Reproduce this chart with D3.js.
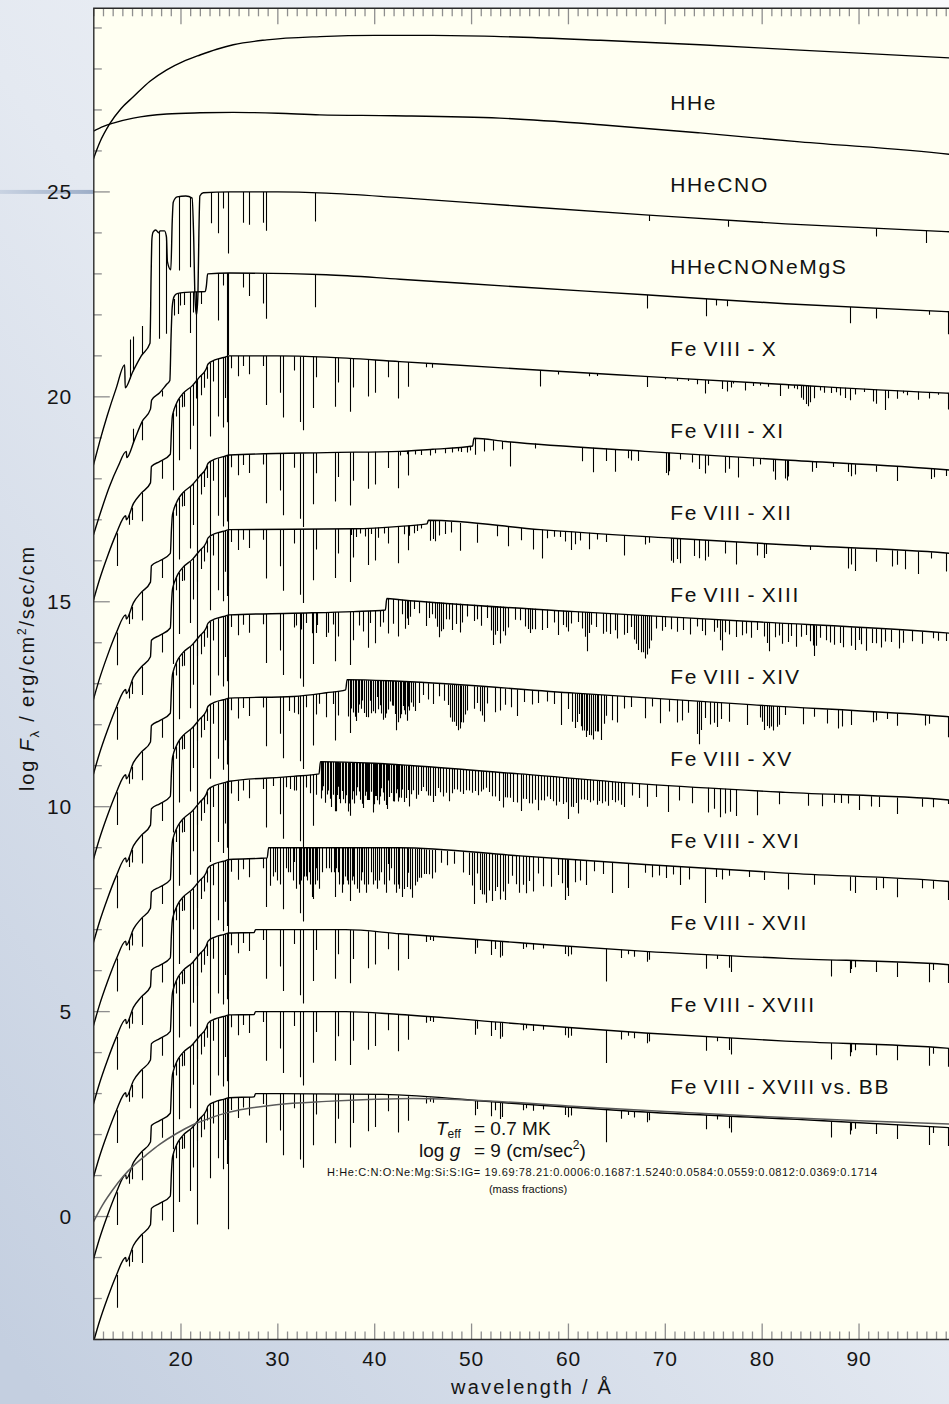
<!DOCTYPE html>
<html>
<head>
<meta charset="utf-8">
<script src="https://cdn.jsdelivr.net/npm/d3@7"></script>
<style>
  html, body { margin: 0; padding: 0; }
  body { width: 949px; height: 1404px; overflow: hidden; background: #e9edf3; }
  svg { display: block; }
</style>
</head>
<body>
<svg id="chart" width="949" height="1404"></svg>
<script>
// ---------------------------------------------------------------
// Axis settings
// ---------------------------------------------------------------
const xDomain = [11, 100];
const yDomain = [-3, 29.48];
const xTickLabels = [20, 30, 40, 50, 60, 70, 80, 90];
const yTickLabels = [0, 5, 10, 15, 20, 25];

// Model names written next to each spectrum and the flux level of each name
const modelNames = ["HHe", "HHeCNO", "HHeCNONeMgS", "Fe VIII - X", "Fe VIII - XI",
  "Fe VIII - XII", "Fe VIII - XIII", "Fe VIII - XIV", "Fe VIII - XV", "Fe VIII - XVI",
  "Fe VIII - XVII", "Fe VIII - XVIII", "Fe VIII - XVIII vs. BB"];
const modelNameLevels = [27, 25, 23, 21, 19, 17, 15, 13, 11, 9, 7, 5, 3];
const modelNameWavelength = 70.5;

// ---------------------------------------------------------------
// Continua: [wavelength / A, log F_lambda]
// ---------------------------------------------------------------
const contTopModel = [[10.92,25.78],[11.6,26.2],[12.67,26.67],[13.8,27.03],[15.08,27.32],[16.8,27.7],[18.53,27.98],[20.2,28.18],[21.96,28.34],[23.7,28.48],[25.4,28.59],[28.85,28.71],[34.35,28.79],[40,28.82],[46,28.82],[53,28.79],[63.3,28.7],[73.6,28.59],[83.9,28.46],[99.3,28.27],[100,28.26]];

const contHHe = [[10.92,26.48],[12.0,26.6],[13.0,26.68],[15.08,26.8],[18.53,26.9],[21.96,26.93],[25.4,26.94],[30,26.92],[34.35,26.88],[42,26.86],[52.9,26.8],[63.3,26.64],[73.6,26.44],[83.9,26.22],[99.3,25.92],[100,25.9]];

const contHHeCNO = [[10.92,18.3],[11.6,18.9],[12.4,19.55],[13.3,20.2],[14.19,20.78],[14.24,20.22],[15.0,20.6],[15.9,21.0],[16.8,21.31],[16.92,23.0],[17.0,23.85],[17.12,24.02],[17.4,24.07],[17.7,24.0],[17.85,24.05],[18.3,24.05],[18.5,23.9],[18.6,23.3],[18.95,23.1],[19.1,24.3],[19.2,24.75],[19.6,24.88],[20.5,24.9],[21.15,24.85],[21.3,24.0],[21.45,22.4],[21.6,22.0],[21.75,22.5],[21.85,24.0],[21.95,24.9],[22.3,24.98],[25,25.0],[30,25.0],[35,24.97],[42.6,24.86],[55,24.65],[67.9,24.44],[82.4,24.22],[99,24.03],[100,24.02]];

const contHHeCNONeMgS = [[10.92,16.6],[11.78,17.24],[12.6,17.8],[13.5,18.3],[14.36,18.67],[14.4,18.52],[15.2,18.95],[16.0,19.4],[16.85,19.7],[16.97,19.92],[17.8,20.1],[18.5,20.3],[18.85,20.4],[18.98,21.5],[19.1,22.2],[19.3,22.45],[19.6,22.52],[20.5,22.55],[22.5,22.57],[22.62,22.7],[22.75,23.0],[25,23.02],[35,22.98],[42.6,22.87],[55,22.68],[67.9,22.49],[82.4,22.27],[99,22.08],[100,22.07]];

const contFeX = [[10.92,15.0],[11.6,15.55],[12.4,16.1],[13.3,16.65],[14.3,17.1],[14.36,17.0],[15.1,17.4],[15.9,17.65],[16.85,17.9],[16.95,18.3],[17.8,18.42],[18.9,18.6],[19.02,19.2],[19.1,19.5],[19.2,19.62],[19.5,19.82],[19.7,19.92],[20.2,20.08],[21.2,20.28],[21.9,20.48],[22.6,20.68],[22.8,20.8],[23.5,20.9],[24.4,20.96],[25,21.0],[30,21.0],[35,20.97],[42.6,20.86],[55,20.68],[67.9,20.5],[82.4,20.3],[99,20.09],[100,20.08]];

const contFeXI = [[10.92,12.58],[11.6,13.13],[12.4,13.68],[13.3,14.23],[14.3,14.68],[14.36,14.58],[15.1,14.98],[15.9,15.23],[16.85,15.48],[16.95,15.88],[17.8,16.0],[18.9,16.18],[19.02,16.78],[19.1,17.08],[19.2,17.2],[19.5,17.4],[19.7,17.5],[20.2,17.66],[21.2,17.86],[21.9,18.06],[22.6,18.26],[22.8,18.38],[23.5,18.48],[24.4,18.54],[25,18.58],[35,18.64],[42.6,18.67],[46,18.72],[50.1,18.8],[50.25,18.99],[53.5,18.91],[67.9,18.67],[82.4,18.46],[99,18.22],[100,18.2]];

const contFeXII = [[10.92,10.76],[11.6,11.31],[12.4,11.86],[13.3,12.41],[14.3,12.86],[14.36,12.76],[15.1,13.16],[15.9,13.41],[16.85,13.66],[16.95,14.06],[17.8,14.18],[18.9,14.36],[19.02,14.96],[19.1,15.26],[19.2,15.38],[19.5,15.58],[19.7,15.68],[20.2,15.84],[21.2,16.04],[21.9,16.24],[22.6,16.44],[22.8,16.56],[23.5,16.66],[24.4,16.72],[25,16.76],[38,16.78],[42.6,16.84],[45.4,16.9],[45.55,16.99],[57.1,16.76],[70.8,16.55],[82.4,16.39],[99,16.19],[100,16.17]];

const contFeXIII = [[10.92,8.68],[11.6,9.23],[12.4,9.78],[13.3,10.33],[14.3,10.78],[14.36,10.68],[15.1,11.08],[15.9,11.33],[16.85,11.58],[16.95,11.98],[17.8,12.1],[18.9,12.28],[19.02,12.88],[19.1,13.18],[19.2,13.3],[19.5,13.5],[19.7,13.6],[20.2,13.76],[21.2,13.96],[21.9,14.16],[22.6,14.36],[22.8,14.48],[23.5,14.58],[24.4,14.64],[25,14.68],[31.6,14.72],[37.8,14.76],[41.1,14.8],[41.25,15.08],[42.6,15.05],[60.7,14.76],[78.8,14.52],[99,14.24],[100,14.22]];

const contFeXIV = [[10.92,6.65],[11.6,7.2],[12.4,7.75],[13.3,8.3],[14.3,8.75],[14.36,8.65],[15.1,9.05],[15.9,9.3],[16.85,9.55],[16.95,9.95],[17.8,10.07],[18.9,10.25],[19.02,10.85],[19.1,11.15],[19.2,11.27],[19.5,11.47],[19.7,11.57],[20.2,11.73],[21.2,11.93],[21.9,12.13],[22.6,12.33],[22.8,12.45],[23.5,12.55],[24.4,12.61],[25,12.65],[31.6,12.69],[35,12.78],[37.0,12.85],[37.15,13.1],[42.6,13.06],[60.7,12.77],[78.8,12.49],[99,12.2],[100,12.18]];

const contFeXV = [[10.92,4.62],[11.6,5.17],[12.4,5.72],[13.3,6.27],[14.3,6.72],[14.36,6.62],[15.1,7.02],[15.9,7.27],[16.85,7.52],[16.95,7.92],[17.8,8.04],[18.9,8.22],[19.02,8.82],[19.1,9.12],[19.2,9.24],[19.5,9.44],[19.7,9.54],[20.2,9.7],[21.2,9.9],[21.9,10.1],[22.6,10.3],[22.8,10.42],[23.5,10.52],[24.4,10.58],[25,10.62],[31.6,10.74],[34.25,10.8],[34.4,11.1],[40,11.06],[44,11.0],[55,10.8],[67.9,10.55],[82.4,10.35],[99,10.17],[100,10.15]];

const contFeXVI = [[10.92,2.71],[11.6,3.26],[12.4,3.81],[13.3,4.36],[14.3,4.81],[14.36,4.71],[15.1,5.11],[15.9,5.36],[16.85,5.61],[16.95,6.01],[17.8,6.13],[18.9,6.31],[19.02,6.91],[19.1,7.21],[19.2,7.33],[19.5,7.53],[19.7,7.63],[20.2,7.79],[21.2,7.99],[21.9,8.19],[22.6,8.39],[22.8,8.51],[23.5,8.61],[24.4,8.67],[25,8.71],[28.9,8.75],[29.05,9.0],[42.6,9.0],[55,8.8],[67.9,8.59],[82.4,8.38],[99,8.18],[100,8.16]];

const contFeXVII = [[10.92,0.92],[11.6,1.47],[12.4,2.02],[13.3,2.57],[14.3,3.02],[14.36,2.92],[15.1,3.32],[15.9,3.57],[16.85,3.82],[16.95,4.22],[17.8,4.34],[18.9,4.52],[19.02,5.12],[19.1,5.42],[19.2,5.54],[19.5,5.74],[19.7,5.84],[20.2,6.0],[21.2,6.2],[21.9,6.4],[22.6,6.6],[22.8,6.72],[23.5,6.82],[24.4,6.88],[25,6.92],[27.55,6.93],[27.7,7.0],[37,7.0],[42.6,6.9],[55,6.68],[67.9,6.47],[82.4,6.3],[99,6.15],[100,6.13]];

const contFeXVIII = [[10.92,-1.08],[11.6,-0.53],[12.4,0.02],[13.3,0.57],[14.3,1.02],[14.36,0.92],[15.1,1.32],[15.9,1.57],[16.85,1.82],[16.95,2.22],[17.8,2.34],[18.9,2.52],[19.02,3.12],[19.1,3.42],[19.2,3.54],[19.5,3.74],[19.7,3.84],[20.2,4.0],[21.2,4.2],[21.9,4.4],[22.6,4.6],[22.8,4.72],[23.5,4.82],[24.4,4.88],[25,4.92],[27.55,4.93],[27.7,5.0],[37,5.0],[42.6,4.93],[55,4.7],[67.9,4.48],[82.4,4.28],[99,4.11],[100,4.09]];

const contFeXVIIIvsBB = [[10.92,-3.1],[11.6,-2.55],[12.4,-2.0],[13.3,-1.45],[14.3,-1.0],[14.36,-1.1],[15.1,-0.7],[15.9,-0.45],[16.85,-0.2],[16.95,0.2],[17.8,0.32],[18.9,0.5],[19.02,1.1],[19.1,1.4],[19.2,1.52],[19.5,1.72],[19.7,1.82],[20.2,1.98],[21.2,2.18],[21.9,2.38],[22.6,2.58],[22.8,2.7],[23.5,2.8],[24.4,2.86],[25,2.9],[27.55,2.92],[27.7,3.0],[40.8,2.98],[53.7,2.77],[66.5,2.57],[83.6,2.37],[99.3,2.17],[100,2.16]];

// Blackbody of the same effective temperature
const contBlackbody = [[10.92,-0.15],[11.9,0.28],[12.98,0.66],[14.0,0.97],[15.05,1.23],[16.4,1.5],[17.8,1.76],[19.5,2.02],[21.24,2.24],[23,2.4],[24.68,2.53],[27,2.64],[29.84,2.73],[35,2.81],[40,2.86],[43.96,2.88],[50,2.84],[60,2.7],[70,2.56],[80,2.44],[90,2.34],[100,2.25]];

// ---------------------------------------------------------------
// Absorption lines: [wavelength / A, depth in dex] (negative = emission)
// ---------------------------------------------------------------
const linesHHeCNO = [[14.7,-0.95],[15.05,-0.85],[15.98,-0.7],[17.75,2.6],[18.45,2.4],[19.8,1.8],[20.97,1.7],[23.13,0.75],[23.8,1.0],[24.3,0.4],[24.86,1.5],[26.4,0.75],[27.0,0.8],[28.5,0.75],[28.8,0.95],[33.87,0.7],[68.3,0.14],[76.5,0.16],[91.8,0.2],[96.9,0.3]];

const linesHHeCNONeMgS = [[15.05,-0.35],[15.98,0.45],[18.0,0.15],[19.25,0.4],[19.65,0.5],[19.95,0.3],[20.3,0.3],[20.9,1.0],[21.25,0.5],[21.6,2.6],[22.1,0.3],[23.8,1.15],[24.3,0.3],[24.7,2.0],[24.8,2.7],[24.9,2.0],[26.4,0.35],[27.0,0.55],[28.5,0.73],[28.8,1.1],[33.87,0.8],[68.1,0.33],[74.2,0.43],[75.2,0.15],[76.4,0.15],[89.1,0.4],[91.8,0.25],[97.2,0.1],[99.2,0.55]];

// H, He, C, N, O, Ne, Mg, Si, S lines common to all iron models
const lightLines = [[13.35,0.8],[14.6,0.25],[14.9,0.3],[15.95,0.7],[18.0,0.45],[19.2,1.9],[19.5,0.3],[19.8,1.5],[20.1,0.3],[20.35,0.35],[20.9,1.5],[21.25,1.0],[21.65,2.5],[22.1,0.5],[22.4,0.4],[22.7,0.3],[23.03,1.8],[23.3,0.5],[23.8,1.4],[24.3,1.7],[24.55,1.0],[24.7,1.6],[24.85,3.2],[25.2,0.3],[25.9,0.5],[26.4,0.25],[27.0,0.45],[28.5,0.25],[28.8,1.2],[30.2,0.9],[30.5,1.5],[31.7,0.35],[32.3,1.6],[32.6,1.8],[33.6,1.25],[33.9,0.5],[35.9,1.2],[36.2,0.6],[37.4,1.3],[37.8,0.7],[39.3,0.9],[40.0,0.8],[41.4,0.4],[42.4,0.9],[43.45,0.6]];

const linesFeX = [[45.3,0.1],[45.9,0.1],[57.1,0.4],[58.9,0.08],[62.1,0.08],[62.9,0.06],[68.1,0.26],[70.0,0.04],[71.2,0.06],[72.3,0.05],[73.3,0.12],[74.1,0.33],[74.4,0.1],[75.9,0.2],[76.4,0.25],[76.8,0.15],[77.0,0.05],[78.2,0.2],[79.1,0.08],[79.8,0.06],[80.6,0.08],[81.8,0.29],[82.7,0.1],[83.3,0.08],[83.6,0.1],[84.0,0.3],[84.2,0.35],[84.5,0.45],[84.7,0.5],[84.9,0.4],[85.3,0.3],[86.0,0.1],[86.4,0.15],[87.1,0.15],[87.6,0.12],[88.0,0.2],[88.5,0.25],[89.1,0.3],[89.6,0.15],[90.5,0.08],[91.4,0.3],[91.8,0.35],[92.7,0.49],[93.0,0.2],[93.9,0.2],[94.5,0.06],[95.0,0.1],[96.1,0.2],[97.2,0.15],[98.2,0.05],[99.2,0.4]];

const linesFeXI = [[42.6,0.1],[43.3,0.08],[44.2,0.1],[44.8,0.12],[45.7,0.15],[46.2,0.1],[47.3,0.12],[48.0,0.12],[48.6,0.1],[48.9,0.12],[49.5,0.15],[49.8,0.1],[50.4,0.4],[51.3,0.3],[52.2,0.25],[53.1,0.2],[54.0,0.6],[56.5,0.12],[61.4,0.35],[62.5,0.6],[63.9,0.3],[64.8,0.55],[66.1,0.2],[66.5,0.25],[67.2,0.25],[70.1,0.5],[70.3,0.55],[70.4,0.45],[71.5,0.15],[72.8,0.2],[73.5,0.35],[74.1,0.45],[74.4,0.25],[76.2,0.4],[76.6,0.3],[77.5,0.5],[79.1,0.2],[79.8,0.15],[81.1,0.3],[81.3,0.5],[82.4,0.45],[82.6,0.5],[82.7,0.4],[85.1,0.25],[85.6,0.15],[87.3,0.1],[88.9,0.2],[89.2,0.3],[89.6,0.25],[91.8,0.15],[93.9,0.35],[97.4,0.25],[97.7,0.2],[99.0,0.15]];

const linesFeXII = [[37.6,0.15],[38.1,0.2],[38.5,0.12],[39.0,0.2],[39.6,0.15],[40.3,0.25],[41.0,0.15],[43.0,0.2],[43.5,0.25],[44.1,0.2],[44.4,0.15],[44.8,0.1],[45.7,0.5],[46.0,0.45],[46.2,0.5],[46.6,0.35],[47.3,0.3],[47.9,0.25],[48.8,0.68],[50.6,0.45],[52.6,0.25],[53.8,0.47],[55.1,0.3],[56.3,0.5],[57.3,0.7],[57.8,0.2],[58.5,0.15],[59.1,0.15],[59.6,0.25],[60.3,0.45],[60.7,0.3],[61.2,0.2],[62.1,0.4],[63.0,0.15],[63.9,0.2],[65.7,0.5],[67.9,0.2],[68.3,0.15],[70.6,0.55],[70.8,0.6],[71.2,0.5],[71.5,0.6],[73.0,0.4],[73.5,0.45],[74.1,0.5],[74.4,0.4],[76.2,0.3],[77.3,0.55],[79.5,0.3],[80.2,0.35],[80.4,0.25],[84.9,0.1],[88.9,0.5],[89.2,0.4],[89.6,0.55],[91.8,0.3],[93.4,0.4],[93.9,0.35],[94.7,0.45],[96.1,0.55],[97.4,0.15],[99.0,0.45]];

const linesFeXIII = [[31.9,0.3],[32.4,0.4],[32.9,0.25],[33.5,0.5],[34.0,0.3],[35.0,0.6],[35.2,0.5],[35.7,0.3],[37.8,0.3],[38.4,0.35],[38.8,0.5],[39.5,0.3],[40.5,0.4],[40.9,0.3],[41.4,0.85],[41.9,0.6],[42.4,0.9],[42.8,0.35],[43.1,0.7],[43.3,0.45],[43.6,0.4],[44.1,0.2],[44.6,0.3],[45.3,0.6],[45.6,0.4],[45.9,0.3],[46.2,0.4],[46.4,0.6],[46.6,0.85],[46.85,0.7],[47.1,0.65],[47.4,0.4],[47.7,0.4],[48.0,0.65],[48.4,0.5],[48.8,0.7],[49.0,0.45],[49.5,0.3],[50.2,0.4],[50.6,0.35],[51.0,0.5],[51.6,0.3],[52.0,0.6],[52.2,0.95],[52.4,0.7],[52.6,0.6],[52.9,0.9],[53.2,0.6],[53.5,0.7],[53.8,0.5],[54.5,0.3],[55.0,0.3],[55.5,0.45],[55.8,0.5],[56.0,0.6],[56.25,0.5],[56.5,0.5],[57.3,0.5],[57.8,0.45],[58.5,0.3],[58.9,0.6],[59.4,0.35],[59.7,0.4],[60.0,0.5],[60.3,0.3],[61.0,0.25],[61.4,0.4],[61.7,0.6],[61.9,0.95],[62.1,0.5],[62.3,0.3],[62.8,0.35],[63.6,0.5],[63.9,0.45],[64.3,0.5],[64.8,0.4],[65.0,0.6],[65.7,0.5],[66.0,0.45],[66.5,0.3],[66.8,0.6],[67.0,0.7],[67.2,0.85],[67.5,0.9],[67.7,0.9],[67.9,1.05],[68.1,0.95],[68.3,0.8],[68.5,0.6],[69.0,0.3],[69.7,0.35],[70.0,0.25],[70.6,0.3],[71.2,0.35],[71.8,0.3],[72.6,0.4],[73.3,0.2],[73.8,0.3],[74.1,0.4],[75.0,0.3],[75.3,0.2],[75.6,0.5],[75.9,0.75],[76.2,0.3],[76.6,0.35],[77.3,0.4],[77.9,0.35],[78.3,0.3],[78.8,0.4],[79.5,0.2],[80.2,0.35],[80.5,0.5],[80.7,0.7],[81.3,0.35],[81.7,0.3],[82.0,0.5],[82.7,0.45],[83.0,0.3],[83.5,0.55],[84.0,0.3],[84.5,0.25],[84.9,0.4],[85.2,0.5],[85.4,0.75],[85.6,0.5],[86.0,0.3],[86.6,0.35],[87.0,0.4],[87.4,0.45],[88.0,0.4],[88.3,0.5],[89.2,0.45],[89.6,0.55],[90.0,0.3],[90.2,0.4],[90.7,0.55],[91.3,0.35],[91.8,0.35],[92.3,0.45],[92.7,0.3],[93.3,0.3],[94.1,0.45],[94.5,0.3],[95.5,0.25],[96.5,0.3],[97.6,0.15],[98.2,0.2],[99.0,0.2]];

const linesFeXIV = [[31.2,0.35],[31.7,0.4],[32.1,0.45],[32.9,0.3],[34.3,0.25],[35.0,0.6],[35.7,0.3],[37.25,0.9],[37.4,1.1],[37.6,0.7],[37.8,0.8],[37.95,0.9],[38.1,1.0],[38.25,0.8],[38.4,0.6],[38.55,0.7],[38.7,0.5],[38.9,0.8],[39.1,0.9],[39.3,0.7],[39.5,0.5],[39.65,0.8],[39.8,0.75],[40.0,0.6],[40.2,0.4],[40.35,0.7],[40.5,0.6],[40.7,0.8],[40.9,0.95],[41.05,0.9],[41.2,0.8],[41.4,0.7],[41.6,0.5],[41.75,0.6],[41.9,0.6],[42.05,0.8],[42.2,1.2],[42.4,1.0],[42.6,0.9],[42.75,0.8],[42.9,0.6],[43.0,0.7],[43.15,0.8],[43.3,0.95],[43.5,0.7],[43.7,0.5],[43.95,0.6],[44.2,0.7],[44.6,0.5],[45.0,0.3],[45.5,0.4],[46.0,0.5],[46.6,0.3],[47.2,0.4],[47.6,0.5],[47.8,0.8],[48.0,0.9],[48.2,0.9],[48.4,1.0],[48.6,1.1],[48.8,1.05],[48.95,0.9],[49.1,0.9],[49.3,0.7],[49.5,0.6],[50.2,0.55],[50.6,0.4],[50.9,0.6],[51.1,0.7],[51.3,0.85],[51.6,0.4],[52.4,0.6],[52.9,0.55],[53.5,0.4],[54.1,0.45],[54.7,0.65],[55.4,0.3],[56.2,0.35],[56.9,0.3],[57.8,0.25],[58.5,0.3],[59.2,0.8],[60.0,0.4],[60.4,0.7],[60.7,0.85],[60.9,0.7],[61.1,0.5],[61.25,0.8],[61.4,0.9],[61.6,0.9],[61.8,1.05],[61.95,0.9],[62.1,1.0],[62.3,1.0],[62.5,1.1],[62.7,0.9],[62.9,0.9],[63.1,0.9],[63.4,1.1],[63.65,0.7],[63.9,0.5],[64.5,0.6],[65.0,0.65],[65.7,0.3],[66.5,0.25],[67.9,0.5],[68.6,0.2],[69.5,0.6],[70.4,0.3],[71.2,0.55],[71.7,0.5],[72.3,0.3],[73.3,0.8],[73.5,1.05],[73.7,0.7],[74.1,0.4],[74.6,0.55],[75.0,0.5],[75.3,0.6],[75.7,0.4],[76.6,0.45],[78.4,0.5],[79.8,0.3],[80.0,0.4],[80.2,0.6],[80.45,0.5],[80.7,0.55],[80.9,0.5],[81.1,0.6],[81.5,0.5],[81.7,0.45],[82.4,0.2],[84.2,0.4],[85.3,0.2],[86.7,0.35],[87.8,0.45],[88.2,0.4],[89.2,0.35],[91.4,0.25],[91.8,0.2],[92.9,0.15],[93.9,0.3],[96.8,0.25],[97.2,0.2],[99.2,0.5]];

const linesFeXV = [[29.5,0.2],[30.8,0.25],[31.3,0.3],[31.9,0.35],[32.9,0.3],[33.3,0.45],[33.9,0.3],[34.5,0.9],[34.6,0.7],[34.7,0.6],[34.9,1.0],[35.05,0.8],[35.2,0.7],[35.35,0.9],[35.5,1.1],[35.7,0.8],[35.85,1.0],[36.0,1.2],[36.15,0.8],[36.3,0.9],[36.45,1.0],[36.6,0.7],[36.75,0.9],[36.9,1.0],[37.05,0.8],[37.2,1.2],[37.35,1.0],[37.5,0.8],[37.7,0.9],[37.9,1.0],[38.05,0.8],[38.2,0.6],[38.35,0.7],[38.5,0.9],[38.65,1.0],[38.8,1.1],[38.95,0.8],[39.1,0.7],[39.25,0.9],[39.4,0.9],[39.6,0.7],[39.8,1.2],[39.95,1.0],[40.1,0.8],[40.25,0.9],[40.4,1.0],[40.55,0.8],[40.7,0.6],[40.85,0.7],[41.0,0.9],[41.15,1.0],[41.3,1.1],[41.5,0.8],[41.7,0.7],[41.85,0.9],[42.0,0.9],[42.15,0.7],[42.3,0.6],[42.5,0.8],[42.7,0.8],[42.85,0.6],[43.0,0.9],[43.25,0.8],[43.5,1.0],[43.75,0.7],[44.0,0.6],[44.25,0.8],[44.5,0.7],[44.75,0.6],[45.0,0.5],[45.25,0.6],[45.5,0.7],[45.75,0.7],[46.0,0.85],[46.25,0.7],[46.5,0.5],[46.75,0.6],[47.0,0.7],[47.35,0.6],[47.7,0.8],[47.95,0.6],[48.2,0.5],[48.5,0.5],[48.8,0.55],[49.1,0.6],[49.4,0.5],[49.7,0.5],[50.0,0.55],[50.35,0.5],[50.7,0.6],[50.95,0.5],[51.2,0.45],[51.5,0.4],[51.8,0.5],[52.1,0.6],[52.4,0.6],[52.8,0.7],[53.2,0.85],[53.45,0.6],[53.7,0.6],[54.0,0.6],[54.3,0.7],[54.7,0.7],[55.1,0.9],[55.35,0.6],[55.6,0.6],[55.9,0.7],[56.2,0.7],[56.55,0.6],[56.9,0.85],[57.2,0.6],[57.5,0.6],[57.8,0.5],[58.1,0.55],[58.4,0.6],[58.7,0.7],[59.05,0.6],[59.4,0.65],[59.7,0.6],[60.0,1.0],[60.25,0.7],[60.5,0.7],[60.75,0.6],[61.0,0.85],[61.3,0.5],[61.6,0.5],[61.9,0.5],[62.2,0.55],[62.55,0.5],[62.9,0.6],[63.2,0.5],[63.5,0.55],[63.8,0.5],[64.1,0.6],[64.45,0.45],[64.8,0.5],[65.1,0.45],[65.4,0.55],[65.7,0.6],[66.6,0.3],[67.3,0.35],[68.1,0.55],[69.0,0.3],[70.3,0.65],[71.4,0.35],[72.8,0.4],[74.4,0.6],[75.0,0.5],[75.6,0.7],[76.2,0.6],[76.7,0.55],[77.3,0.65],[79.5,0.6],[81.7,0.3],[84.7,0.3],[86.2,0.3],[87.4,0.2],[88.1,0.2],[88.9,0.2],[90.0,0.35],[91.2,0.25],[92.1,0.25],[93.9,0.4],[96.5,0.2],[97.6,0.2],[99.2,0.1]];

const linesFeXVI = [[29.2,0.93],[29.45,0.7],[29.7,0.6],[29.95,0.8],[30.2,0.9],[30.5,0.7],[30.8,0.5],[31.05,0.6],[31.3,0.6],[31.6,0.8],[31.9,1.0],[32.15,0.9],[32.4,0.8],[32.65,0.7],[32.9,0.7],[33.05,0.8],[33.2,0.6],[33.35,0.9],[33.5,1.2],[33.65,1.0],[33.8,0.9],[34.0,0.8],[34.3,1.0],[34.6,0.6],[35.0,0.5],[35.25,0.5],[35.5,0.6],[35.75,0.6],[36.0,0.5],[36.3,0.9],[36.6,1.1],[36.75,0.9],[36.9,0.7],[37.1,0.8],[37.25,0.9],[37.4,1.0],[37.65,0.8],[37.9,0.9],[38.15,1.0],[38.4,1.1],[38.55,0.8],[38.7,0.6],[38.9,0.9],[39.1,1.1],[39.35,0.8],[39.6,0.6],[39.85,0.9],[40.2,1.0],[40.45,0.8],[40.7,0.6],[40.95,0.9],[41.2,1.1],[41.45,0.8],[41.7,0.5],[41.95,0.9],[42.2,1.1],[42.5,1.0],[42.8,1.2],[43.05,1.0],[43.3,0.95],[43.6,1.0],[43.9,1.2],[44.15,0.9],[44.4,0.8],[44.6,0.7],[44.8,0.7],[45.05,0.6],[45.3,0.6],[45.6,0.6],[45.9,0.7],[46.2,0.55],[46.8,0.3],[47.5,0.35],[48.2,0.3],[49.1,0.5],[49.7,0.55],[50.0,0.8],[50.2,1.25],[50.6,0.5],[50.9,0.9],[51.1,1.0],[51.3,1.0],[51.5,1.2],[51.8,0.9],[52.1,1.15],[52.4,0.9],[52.65,0.8],[52.9,1.1],[53.2,0.9],[53.5,1.1],[53.8,0.7],[54.2,0.5],[54.6,0.7],[54.9,0.9],[55.3,0.7],[55.6,0.9],[55.9,0.6],[56.3,0.85],[56.9,0.4],[57.4,0.7],[58.2,0.7],[58.9,0.4],[59.3,0.6],[59.6,1.0],[59.85,0.7],[60.0,0.9],[60.7,0.55],[61.2,0.5],[61.8,0.6],[62.6,0.25],[63.6,0.3],[64.5,0.75],[66.1,0.6],[67.9,0.2],[68.6,0.3],[69.4,0.25],[70.1,0.3],[70.8,0.2],[71.5,0.45],[72.4,0.3],[74.1,0.85],[75.2,0.2],[75.9,0.25],[76.6,0.15],[78.6,0.15],[80.2,0.2],[82.7,0.4],[85.3,0.25],[89.1,0.35],[89.6,0.4],[91.8,0.3],[92.5,0.25],[93.9,0.45],[96.5,0.2],[97.6,0.2],[99.2,0.45]];

// Lines shared by the Fe VIII - XVII and Fe VIII - XVIII models
const linesFeHigh = [[45.3,0.15],[45.7,0.1],[46.0,0.12],[50.4,0.35],[50.6,0.2],[52.0,0.35],[52.4,0.2],[52.9,0.4],[53.1,0.35],[55.3,0.15],[55.6,0.1],[56.3,0.15],[57.4,0.1],[59.6,0.2],[60.0,0.25],[60.3,0.2],[63.9,0.8],[65.4,0.2],[66.1,0.1],[66.8,0.15],[68.1,0.25],[68.3,0.2],[74.2,0.35],[75.3,0.1],[76.6,0.3],[76.8,0.4],[87.1,0.4],[89.1,0.3],[89.2,0.2],[89.6,0.15],[91.8,0.25],[93.9,0.35],[97.2,0.45],[97.6,0.15],[99.2,0.45]];

// ---------------------------------------------------------------
// Drawing
// ---------------------------------------------------------------
const W = 949, H = 1404;
const FONT = "'Liberation Sans', Arial, Helvetica, sans-serif";
const svg = d3.select("#chart");

const x = d3.scaleLinear().domain(xDomain).range([93.8, 955.9]);
const y = d3.scaleLinear().domain(yDomain).range([1339.5, 8.3]);
const plotLeft = x(xDomain[0]), plotRight = x(xDomain[1]);
const plotTop = y(yDomain[1]), plotBottom = y(yDomain[0]);

const defs = svg.append("defs");
const bgGrad = defs.append("linearGradient").attr("id", "bgGrad")
  .attr("x1", "0.95").attr("y1", "0").attr("x2", "0.05").attr("y2", "1");
bgGrad.append("stop").attr("offset", "0").attr("stop-color", "#f8f9fb");
bgGrad.append("stop").attr("offset", "0.5").attr("stop-color", "#e4e9f1");
bgGrad.append("stop").attr("offset", "1").attr("stop-color", "#c4cfe0");
const barGrad = defs.append("linearGradient").attr("id", "barGrad")
  .attr("x1", "0").attr("y1", "0").attr("x2", "1").attr("y2", "0");
barGrad.append("stop").attr("offset", "0").attr("stop-color", "#c9d3e2");
barGrad.append("stop").attr("offset", "1").attr("stop-color", "#9cadc7");
defs.append("clipPath").attr("id", "plotClip").append("rect")
  .attr("x", plotLeft).attr("y", plotTop)
  .attr("width", plotRight - plotLeft).attr("height", plotBottom - plotTop);

svg.append("rect").attr("width", W).attr("height", H).attr("fill", "url(#bgGrad)");
// highlight bar at the 25 level in the margin
svg.append("rect").attr("x", 0).attr("y", y(25) - 2).attr("width", plotLeft).attr("height", 4)
  .attr("fill", "url(#barGrad)");

// plot area
svg.append("rect").attr("x", plotLeft).attr("y", plotTop)
  .attr("width", plotRight - plotLeft).attr("height", plotBottom - plotTop)
  .attr("fill", "#fffff2");

// ticks
const tickG = svg.append("g").attr("stroke", "#8e8e8e").attr("stroke-width", 1.3);
d3.range(11, 101, 1).forEach(v => {
  const px = x(v), major = v % 10 === 0;
  const len = major ? 16 : 8;
  tickG.append("line").attr("x1", px).attr("x2", px).attr("y1", plotTop).attr("y2", plotTop + len);
  tickG.append("line").attr("x1", px).attr("x2", px).attr("y1", plotBottom).attr("y2", plotBottom - len);
});
d3.range(-3, 30, 1).forEach(v => {
  const py = y(v), major = v % 5 === 0;
  const len = major ? 16 : 8;
  tickG.append("line").attr("x1", plotLeft).attr("x2", plotLeft + len).attr("y1", py).attr("y2", py);
});

// spectra
const line = d3.line().x(d => x(d[0])).y(d => y(d[1])).curve(d3.curveMonotoneX);
const bis = d3.bisector(d => d[0]).right;
function contAt(cont, l) {
  const i = bis(cont, l);
  if (i <= 0) return cont[0][1];
  if (i >= cont.length) return cont[cont.length - 1][1];
  const a = cont[i - 1], b = cont[i];
  return a[1] + (l - a[0]) / (b[0] - a[0]) * (b[1] - a[1]);
}
function spikes(cont, sets) {
  let p = "";
  sets.forEach(set => set.forEach(([l, depth]) => {
    const top = contAt(cont, l);
    const px = Math.round(x(l)) + 0.5;
    p += "M" + px + "," + y(top).toFixed(1) + "V" + y(top - depth).toFixed(1);
  }));
  return p;
}

const spectra = [
  { cont: contTopModel, lines: [] },
  { cont: contHHe, lines: [] },
  { cont: contHHeCNO, lines: [linesHHeCNO] },
  { cont: contHHeCNONeMgS, lines: [linesHHeCNONeMgS] },
  { cont: contFeX, lines: [lightLines, linesFeX] },
  { cont: contFeXI, lines: [lightLines, linesFeXI] },
  { cont: contFeXII, lines: [lightLines, linesFeXII] },
  { cont: contFeXIII, lines: [lightLines, linesFeXIII] },
  { cont: contFeXIV, lines: [lightLines, linesFeXIV] },
  { cont: contFeXV, lines: [lightLines, linesFeXV] },
  { cont: contFeXVI, lines: [lightLines, linesFeXVI] },
  { cont: contFeXVII, lines: [lightLines, linesFeHigh] },
  { cont: contFeXVIII, lines: [lightLines, linesFeHigh] },
  { cont: contFeXVIIIvsBB, lines: [lightLines, linesFeHigh] }
];

const specG = svg.append("g").attr("clip-path", "url(#plotClip)");
spectra.forEach(s => {
  specG.append("path").attr("d", line(s.cont)).attr("fill", "none")
    .attr("stroke", "#000").attr("stroke-width", 1.4).attr("stroke-linejoin", "round");
  if (s.lines.length) {
    specG.append("path").attr("d", spikes(s.cont, s.lines)).attr("fill", "none")
      .attr("stroke", "#000").attr("stroke-width", 1.1);
  }
});
specG.append("path").attr("d", line(contBlackbody)).attr("fill", "none")
  .attr("stroke", "#5a5a5a").attr("stroke-width", 1.5);

// frame
const frame = svg.append("g").attr("stroke", "#2a2a2a").attr("stroke-width", 1.4).attr("fill", "none");
frame.append("path").attr("d", `M${plotRight},${plotTop}H${plotLeft}V${plotBottom}H${plotRight}`);

// model names
svg.append("g").selectAll("text").data(modelNames).join("text")
  .attr("x", x(modelNameWavelength))
  .attr("y", (d, i) => y(modelNameLevels[i]))
  .attr("font-family", FONT).attr("font-size", 21).attr("letter-spacing", 1.7)
  .attr("word-spacing", -2)
  .attr("fill", "#111").text(d => d);

// tick labels
svg.append("g").selectAll("text").data(yTickLabels).join("text")
  .attr("x", 72).attr("y", d => y(d)).attr("dy", "0.36em").attr("text-anchor", "end")
  .attr("font-family", FONT).attr("font-size", 21).attr("letter-spacing", 0.8)
  .attr("fill", "#151515").text(d => d);
svg.append("g").selectAll("text").data(xTickLabels).join("text")
  .attr("x", d => x(d)).attr("y", 1366).attr("text-anchor", "middle")
  .attr("font-family", FONT).attr("font-size", 21).attr("letter-spacing", 0.8)
  .attr("fill", "#151515").text(d => d);

// axis titles
svg.append("text").attr("x", 532).attr("y", 1394).attr("text-anchor", "middle")
  .attr("font-family", FONT).attr("font-size", 20).attr("letter-spacing", 2.2).attr("fill", "#151515")
  .text("wavelength / Å");

const yt = svg.append("text").attr("transform", "translate(34,668) rotate(-90)")
  .attr("text-anchor", "middle").attr("font-family", FONT).attr("font-size", 20)
  .attr("letter-spacing", 1.8).attr("fill", "#151515");
yt.append("tspan").text("log ");
yt.append("tspan").attr("font-style", "italic").text("F");
yt.append("tspan").attr("font-size", 13).attr("dy", 5).text("λ");
yt.append("tspan").attr("dy", -5).text(" / erg/cm");
yt.append("tspan").attr("font-size", 12).attr("dy", -8).text("2");
yt.append("tspan").attr("dy", 8).text("/sec/cm");

// model parameters
const ann = svg.append("g").attr("font-family", FONT).attr("fill", "#111");
const t1 = ann.append("text").attr("y", 1135).attr("font-size", 19);
t1.append("tspan").attr("x", 436).attr("font-style", "italic").text("T");
t1.append("tspan").attr("font-size", 12).attr("dy", 3).text("eff");
t1.append("tspan").attr("x", 474).attr("dy", -3).text("= 0.7 MK");
const t2 = ann.append("text").attr("y", 1157).attr("font-size", 19);
t2.append("tspan").attr("x", 419).text("log ");
t2.append("tspan").attr("font-style", "italic").text("g");
t2.append("tspan").attr("x", 474).text("= 9 (cm/sec");
t2.append("tspan").attr("font-size", 12).attr("dy", -8).text("2");
t2.append("tspan").attr("dy", 8).text(")");
ann.append("text").attr("x", 327).attr("y", 1176).attr("font-size", 11)
  .attr("textLength", 550).attr("lengthAdjust", "spacing")
  .text("H:He:C:N:O:Ne:Mg:Si:S:IG= 19.69:78.21:0.0006:0.1687:1.5240:0.0584:0.0559:0.0812:0.0369:0.1714");
ann.append("text").attr("x", 528).attr("y", 1193).attr("font-size", 11).attr("text-anchor", "middle")
  .text("(mass fractions)");
</script>
</body>
</html>
